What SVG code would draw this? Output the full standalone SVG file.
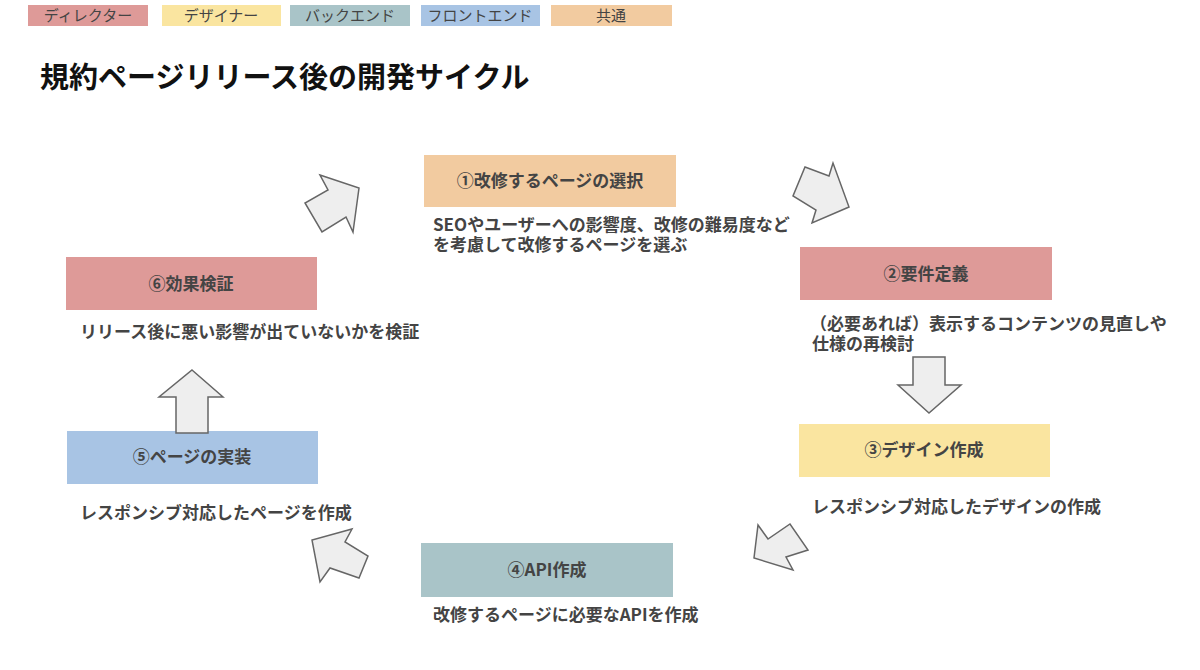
<svg xmlns="http://www.w3.org/2000/svg" width="1200" height="670" viewBox="0 0 1200 670">
<style>
text{font-family:"Noto Sans CJK JP","Noto Sans",sans-serif;fill:#444}
.lg{font-size:15px;text-anchor:middle}
.lbl{font-size:17px;font-weight:bold;text-anchor:middle}
.desc{font-size:17px;font-weight:bold}
.title{font-size:29px;font-weight:bold;fill:#111}
.arrow{fill:#eeeeee;stroke:#666;stroke-width:1.5;stroke-linejoin:miter}
.dir{fill:#de9a98}.des{fill:#fae5a0}.be{fill:#a9c4c8}.fe{fill:#a8c4e4}.com{fill:#f2cba0}
</style>
<rect width="1200" height="670" fill="#fff"/>
<g id="legend">
<rect class="dir" x="28" y="5" width="120" height="21"/><text class="lg" x="88" y="21">ディレクター</text>
<rect class="des" x="162" y="5" width="119" height="21"/><text class="lg" x="221" y="21">デザイナー</text>
<rect class="be" x="290" y="5" width="120" height="21"/><text class="lg" x="350" y="21">バックエンド</text>
<rect class="fe" x="421" y="5" width="119" height="21"/><text class="lg" x="480" y="21">フロントエンド</text>
<rect class="com" x="551" y="5" width="121" height="21"/><text class="lg" x="611" y="21">共通</text>
</g>
<text class="title" x="40" y="88">規約ページリリース後の開発サイクル</text>
<g id="n1">
<rect class="com" x="424" y="155" width="252" height="52"/>
<text class="lbl" x="550" y="187">①改修するページの選択</text>
<text class="desc" font-size="16.5"><tspan x="433" y="231">SEOやユーザーへの影響度、改修の難易度など</tspan><tspan x="433" y="251">を考慮して改修するページを選ぶ</tspan></text>
</g>
<g id="n2">
<rect class="dir" x="800" y="247" width="252" height="53"/>
<text class="lbl" x="926" y="280">②要件定義</text>
<text class="desc"><tspan x="810" y="330">（必要あれば）表示するコンテンツの見直しや</tspan><tspan x="812" y="350">仕様の再検討</tspan></text>
</g>
<g id="n3">
<rect class="des" x="799" y="424" width="251" height="53"/>
<text class="lbl" x="924" y="456">③デザイン作成</text>
<text class="desc" x="812" y="513">レスポンシブ対応したデザインの作成</text>
</g>
<g id="n4">
<rect class="be" x="421" y="543" width="252" height="54"/>
<text class="lbl" x="547" y="576">④API作成</text>
<text class="desc" x="433" y="621">改修するページに必要なAPIを作成</text>
</g>
<g id="n5">
<rect class="fe" x="67" y="431" width="251" height="53"/>
<text class="lbl" x="192" y="463">⑤ページの実装</text>
<text class="desc" x="80" y="519">レスポンシブ対応したページを作成</text>
</g>
<g id="n6">
<rect class="dir" x="66" y="257" width="251" height="53"/>
<text class="lbl" x="191" y="290">⑥効果検証</text>
<text class="desc" x="80" y="338">リリース後に悪い影響が出ていないかを検証</text>
</g>
<g id="connectors">
<polygon class="arrow" points="320,175 359,188 353,232 346,217 322,232 305,203 328,190"/>
<polygon class="arrow" points="805,167 829,176 833,163 849,207 812,223 816,210 793,196"/>
<polygon class="arrow" points="913,357 945,357 945,385 961,385 929,413 898,385 913,385"/>
<polygon class="arrow" points="758,525 768,539 790,524 808,550 786,557 793,570 754,558"/>
<polygon class="arrow" points="352,529 345,542 368,556 359,578 330,568 320,582 312,540"/>
<polygon class="arrow" points="192,370 223,397 208,397 208,433 176,433 176,397 159,397"/>
</g>
</svg>
